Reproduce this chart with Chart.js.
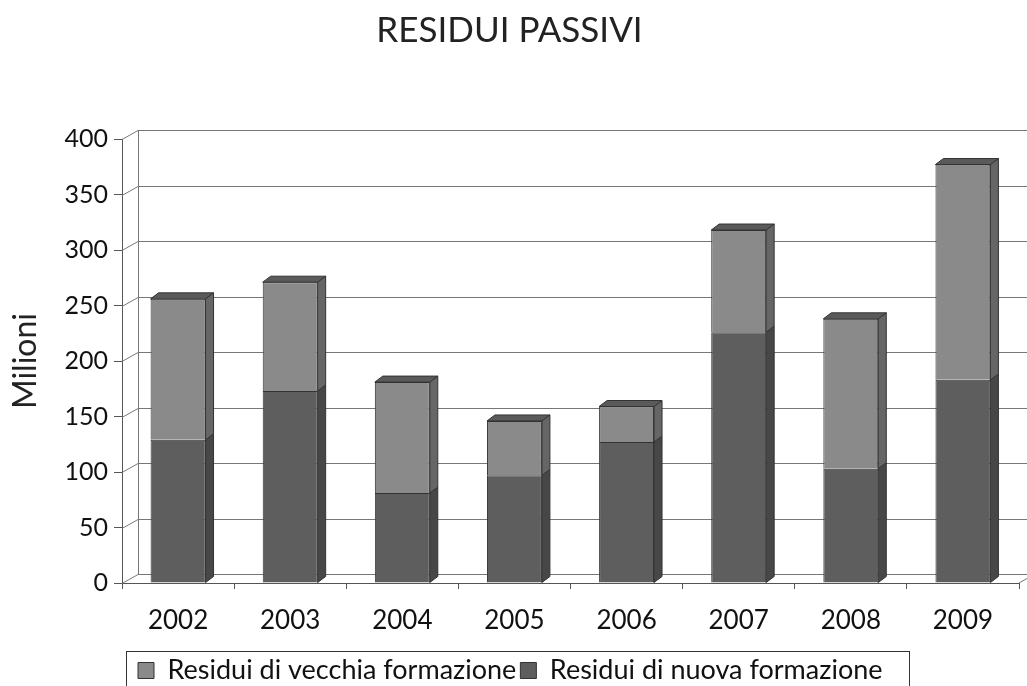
<!DOCTYPE html>
<html>
<head>
<meta charset="utf-8">
<script src="https://cdn.jsdelivr.net/npm/chart.js@4.4.1/dist/chart.umd.min.js"></script>
<style>
  html, body { margin: 0; padding: 0; background: #fff; }
  #wrap { width: 1027px; height: 686px; }
</style>
</head>
<body>
<div id="wrap"><canvas id="residuiChart" width="1027" height="686"></canvas></div>
<script>
const anni = ['2002', '2003', '2004', '2005', '2006', '2007', '2008', '2009'];
const nuovaFormazione = [129, 173, 81, 97, 127, 226, 103, 183];
const vecchiaFormazione = [127, 98, 100, 49, 32, 92, 135, 194];

const FONT = 'Lato, "Open Sans", sans-serif';

// fake 3D look: back wall grid + side/top faces of the bars
const wall3d = {
    id: 'wall3d',
    afterLayout(chart) {
        // nudge the legend right and down, like the original
        const lg = chart.legend;
        lg.left += 12;
        lg.right += 12;
        lg.top += 8;
        lg.bottom += 8;
    },
    beforeDatasetsDraw(chart) {
        const { ctx, chartArea: a, scales: { y } } = chart;
        const dx = 16, dy = 9;
        ctx.save();
        ctx.strokeStyle = '#777';
        ctx.lineWidth = 1;
        y.ticks.forEach(t => {
            const py = Math.round(y.getPixelForValue(t.value)) + 0.5;
            ctx.beginPath();
            ctx.moveTo(a.left, py);
            ctx.lineTo(a.left + dx, py - dy);
            ctx.lineTo(a.right + dx, py - dy);
            ctx.stroke();
        });
        ctx.beginPath();
        ctx.moveTo(a.left + dx + 0.5, a.top - dy);
        ctx.lineTo(a.left + dx + 0.5, a.bottom - dy);
        ctx.stroke();
        ctx.beginPath();
        ctx.moveTo(a.right, a.bottom);
        ctx.lineTo(a.right + dx, a.bottom - dy);
        ctx.stroke();
        ctx.restore();
    },
    afterDatasetsDraw(chart) {
        const { ctx } = chart;
        const d = 8, h = 6;
        ctx.save();
        chart.data.datasets.forEach((ds, i) => {
            const meta = chart.getDatasetMeta(i);
            meta.data.forEach(bar => {
                const r = bar.x + bar.width / 2;
                const l = bar.x - bar.width / 2;
                ctx.strokeStyle = '#333';
                ctx.lineWidth = 1;
                ctx.fillStyle = ds.sideColor;
                ctx.beginPath();
                ctx.moveTo(r, bar.y);
                ctx.lineTo(r + d, bar.y - h);
                ctx.lineTo(r + d, bar.base - h);
                ctx.lineTo(r, bar.base);
                ctx.closePath();
                ctx.fill();
                ctx.stroke();
                if (ds.isTop) {
                    ctx.fillStyle = '#5a5a5a';
                    ctx.beginPath();
                    ctx.moveTo(l, bar.y);
                    ctx.lineTo(l + d, bar.y - h);
                    ctx.lineTo(r + d, bar.y - h);
                    ctx.lineTo(r, bar.y);
                    ctx.closePath();
                    ctx.fill();
                    ctx.stroke();
                }
            });
        });
        ctx.restore();
    },
    afterDraw(chart) {
        // border around the legend
        const ctx = chart.ctx;
        ctx.save();
        ctx.strokeStyle = '#333';
        ctx.lineWidth = 1;
        ctx.strokeRect(126.5, 651.5, 783, 40);
        ctx.restore();
    }
};

new Chart(document.getElementById('residuiChart'), {
    type: 'bar',
    data: {
        labels: anni,
        datasets: [{
            label: 'Residui di nuova formazione',
            data: nuovaFormazione,
            backgroundColor: '#5e5e5e',
            sideColor: '#474747',
            borderColor: '#333',
            borderWidth: 1,
            barPercentage: 0.49,
            categoryPercentage: 1
        }, {
            label: 'Residui di vecchia formazione',
            data: vecchiaFormazione,
            backgroundColor: '#8a8a8a',
            sideColor: '#666',
            isTop: true,
            borderColor: '#333',
            borderWidth: 1,
            barPercentage: 0.49,
            categoryPercentage: 1
        }]
    },
    options: {
        responsive: false,
        animation: false,
        layout: { padding: { left: 0, right: 8, top: 0, bottom: 0 } },
        plugins: {
            title: {
                display: true,
                text: 'RESIDUI PASSIVI',
                color: '#222',
                font: { family: FONT, size: 35, weight: 'normal' },
                padding: { top: 10, bottom: 87 }
            },
            legend: {
                position: 'bottom',
                align: 'start',
                fullSize: false,
                reverse: true,
                labels: {
                    color: '#111',
                    font: { family: FONT, size: 27 },
                    boxWidth: 16,
                    boxHeight: 16,
                    padding: 4,
                    useBorderRadius: false
                }
            },
            tooltip: { enabled: false }
        },
        scales: {
            x: {
                stacked: true,
                grid: { display: true, drawOnChartArea: false, tickLength: 6, color: '#555', offset: true },
                border: { color: '#555' },
                ticks: { color: '#111', font: { family: FONT, size: 26 }, padding: 16 },
                afterFit: s => { s.height = 62; }
            },
            y: {
                stacked: true,
                min: 0,
                max: 400,
                grid: { display: true, drawOnChartArea: false, tickLength: 8, color: '#555' },
                border: { color: '#555' },
                ticks: { stepSize: 50, color: '#111', font: { family: FONT, size: 25 }, padding: 6 },
                title: {
                    display: true,
                    text: 'Milioni',
                    color: '#222',
                    font: { family: FONT, size: 32 },
                    padding: { top: 6, bottom: 0 }
                },
                afterFit: s => { s.width = 122; }
            }
        }
    },
    plugins: [wall3d]
});
</script>
</body>
</html>
